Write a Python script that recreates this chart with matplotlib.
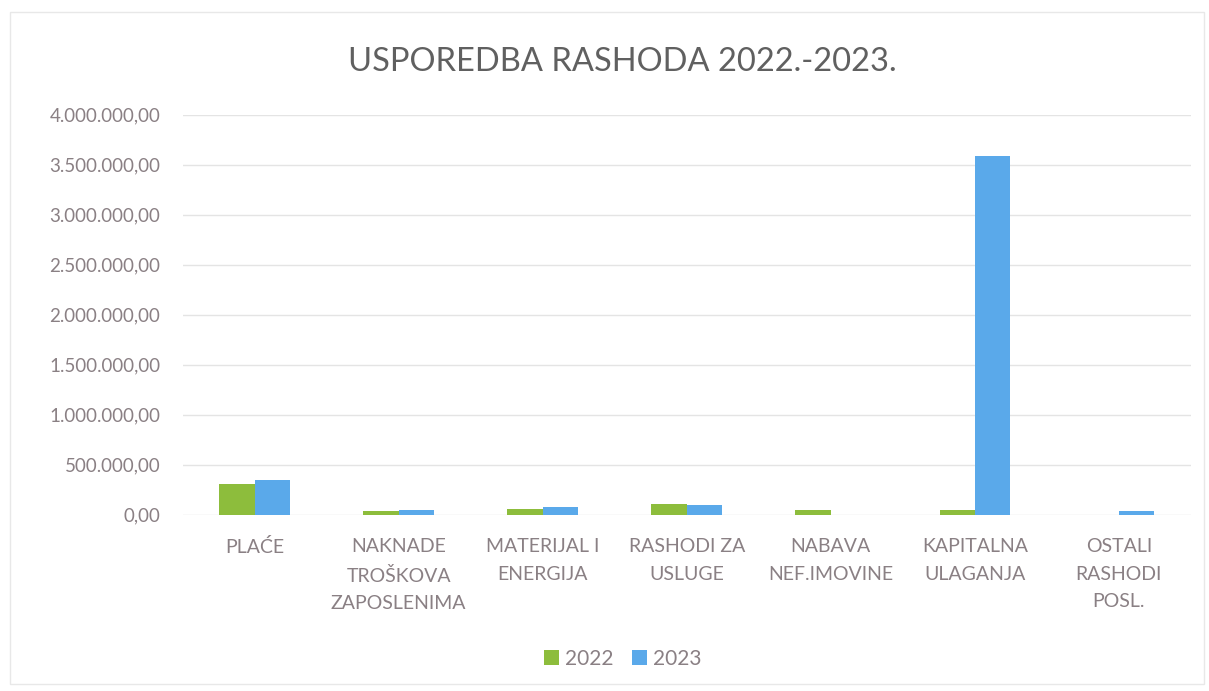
import numpy as np
import matplotlib.pyplot as plt
from matplotlib.patches import Rectangle
from matplotlib.ticker import FuncFormatter

kategorije = ['PLAĆE', 'NAKNADE\nTROŠKOVA\nZAPOSLENIMA', 'MATERIJAL I\nENERGIJA',
              'RASHODI ZA\nUSLUGE', 'NABAVA\nNEF.IMOVINE', 'KAPITALNA\nULAGANJA',
              'OSTALI\nRASHODI\nPOSL.']
rashodi_2022 = [310000, 40000, 55000, 110000, 50000, 50000, 0]
rashodi_2023 = [350000, 45000, 80000, 95000, 0, 3590000, 35000]

plt.rcParams['font.family'] = ['Lato', 'DejaVu Sans']
siva = '#8a8084'

fig = plt.figure(figsize=(12.09, 6.91), dpi=100)
ax = fig.add_axes([0.151, 0.255, 0.834, 0.579])

x = np.arange(len(kategorije))
w = 0.245
ax.bar(x - w / 2, rashodi_2022, w, color='#8dbd3c', label='2022', zorder=3)
ax.bar(x + w / 2, rashodi_2023, w, color='#5aa9ea', label='2023', zorder=3)

ax.set_xlim(-0.5, len(kategorije) - 0.5)
ax.set_ylim(0, 4000000)
ax.set_yticks(np.arange(0, 4000001, 500000))

def hr_format(v, pos):
    s = f'{v:,.2f}'
    return s.replace(',', 'X').replace('.', ',').replace('X', '.')

ax.yaxis.set_major_formatter(FuncFormatter(hr_format))
ax.set_xticks(x)
ax.set_xticklabels(kategorije, linespacing=1.75)
ax.tick_params(axis='both', length=0, colors=siva, labelsize=13.5)
ax.tick_params(axis='x', labelsize=14, pad=17)
ax.tick_params(axis='y', pad=16)
ax.grid(axis='y', color='#e4e4e4', linewidth=1)
for s in ax.spines.values():
    s.set_visible(False)

fig.text(0.515, 0.91, 'USPOREDBA RASHODA 2022.-2023.', ha='center', va='center',
         fontsize=23.5, color='#606060')

fig.legend(loc='center', bbox_to_anchor=(0.515, 0.047), ncol=2, frameon=False,
           fontsize=15, labelcolor=siva, handlelength=0.7, handleheight=0.7,
           handletextpad=0.3, columnspacing=0.9)

fig.patches.append(Rectangle((0.008, 0.01), 0.988, 0.972, transform=fig.transFigure,
                             fill=False, edgecolor='#e8e8e8', linewidth=1))

fig.savefig('out.png', dpi=100)
